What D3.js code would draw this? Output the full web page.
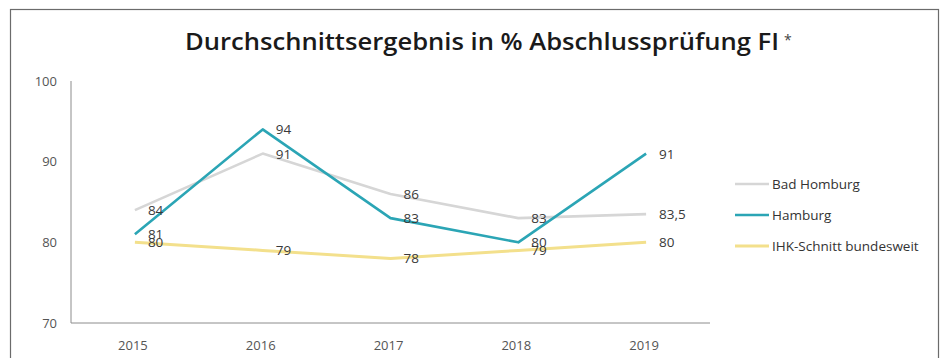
<!DOCTYPE html>
<html>
<head>
<meta charset="utf-8">
<script src="https://cdn.jsdelivr.net/npm/d3@7"></script>
<style>
  body { margin: 0; background: #fff; }
  svg { display: block; font-family: "Open Sans", "Lato", sans-serif; }
</style>
</head>
<body>
<div id="chart"></div>
<script>
// data
const years = ["2015", "2016", "2017", "2018", "2019"];
const badHomburg = [84, 91, 86, 83, 83.5];
const hamburg = [81, 94, 83, 80, 91];
const ihk = [80, 79, 78, 79, 80];
const yTicks = [70, 80, 90, 100];
const seriesNames = ["Bad Homburg", "Hamburg", "IHK-Schnitt bundesweit"];

const width = 952, height = 358;
const margin = { top: 81, left: 71, right: 242, bottom: 35 };

const svg = d3.select("#chart").append("svg")
  .attr("width", width)
  .attr("height", height);

// frame
svg.append("rect")
  .attr("x", 10.5).attr("y", 9.5)
  .attr("width", 928).attr("height", 400)
  .attr("fill", "#fff")
  .attr("stroke", "#6b6b6b")
  .attr("stroke-width", 1.2);

// title
const title = svg.append("text")
  .attr("x", 185).attr("y", 50)
  .attr("fill", "#1a1a1a")
  .style("font-size", "24px");
title.append("tspan")
  .attr("font-weight", 600)
  .attr("textLength", 594)
  .attr("lengthAdjust", "spacingAndGlyphs")
  .text("Durchschnittsergebnis in % Abschlussprüfung FI");
title.append("tspan")
  .attr("dx", 5).attr("dy", -5)
  .style("font-size", "14px")
  .attr("fill", "#444")
  .text("*");

// scales
const x = d3.scalePoint()
  .domain(years)
  .range([margin.left, width - margin.right])
  .padding(0.5);

const y = d3.scaleLinear()
  .domain([70, 100])
  .range([323, 81]);

// axes
svg.append("line")
  .attr("x1", margin.left).attr("x2", margin.left)
  .attr("y1", y(100)).attr("y2", y(70))
  .attr("stroke", "#8c8c8c").attr("stroke-width", 1);

svg.append("line")
  .attr("x1", margin.left).attr("x2", width - margin.right)
  .attr("y1", y(70)).attr("y2", y(70))
  .attr("stroke", "#8c8c8c").attr("stroke-width", 1);

svg.selectAll(".ytick")
  .data(yTicks)
  .enter()
  .append("text")
  .attr("x", 57)
  .attr("y", (d) => y(d) + 4.5)
  .attr("text-anchor", "end")
  .attr("fill", "#555")
  .style("font-size", "13px")
  .text((d) => d);

svg.selectAll(".xtick")
  .data(years)
  .enter()
  .append("text")
  .attr("x", (d) => x(d) - 2)
  .attr("y", 350)
  .attr("text-anchor", "middle")
  .attr("fill", "#555")
  .style("font-size", "13px")
  .text((d) => d);

// lines
const series = [
  { name: seriesNames[0], values: badHomburg, color: "#d6d6d6", w: 2.6 },
  { name: seriesNames[1], values: hamburg, color: "#2ba5b5", w: 2.6 },
  { name: seriesNames[2], values: ihk, color: "#f3e08c", w: 3 },
];

const line = d3.line()
  .x((d, i) => x(years[i]))
  .y((d) => y(d));

// yellow first, then grey, teal on top
[series[2], series[0], series[1]].forEach((s) => {
  svg.append("path")
    .datum(s.values)
    .attr("d", line)
    .attr("fill", "none")
    .attr("stroke", s.color)
    .attr("stroke-width", s.w)
    .attr("stroke-linejoin", "round");
});

// value labels
series.forEach((s) => {
  svg.selectAll(null)
    .data(s.values)
    .enter()
    .append("text")
    .attr("x", (d, i) => x(years[i]) + 13)
    .attr("y", (d) => y(d) + 5)
    .attr("fill", "#3a3a3a")
    .style("font-size", "13.5px")
    .text((d) => String(d).replace(".", ","));
});

// legend
const legend = svg.selectAll(".legend")
  .data(series)
  .enter()
  .append("g")
  .attr("transform", (d, i) => `translate(735, ${184 + i * 31})`);

legend.append("line")
  .attr("x1", 0).attr("x2", 34)
  .attr("stroke", (d) => d.color)
  .attr("stroke-width", (d) => d.w);

legend.append("text")
  .attr("x", 37)
  .attr("y", 4.5)
  .attr("fill", "#333")
  .style("font-size", "13.5px")
  .text((d) => d.name);
</script>
</body>
</html>
